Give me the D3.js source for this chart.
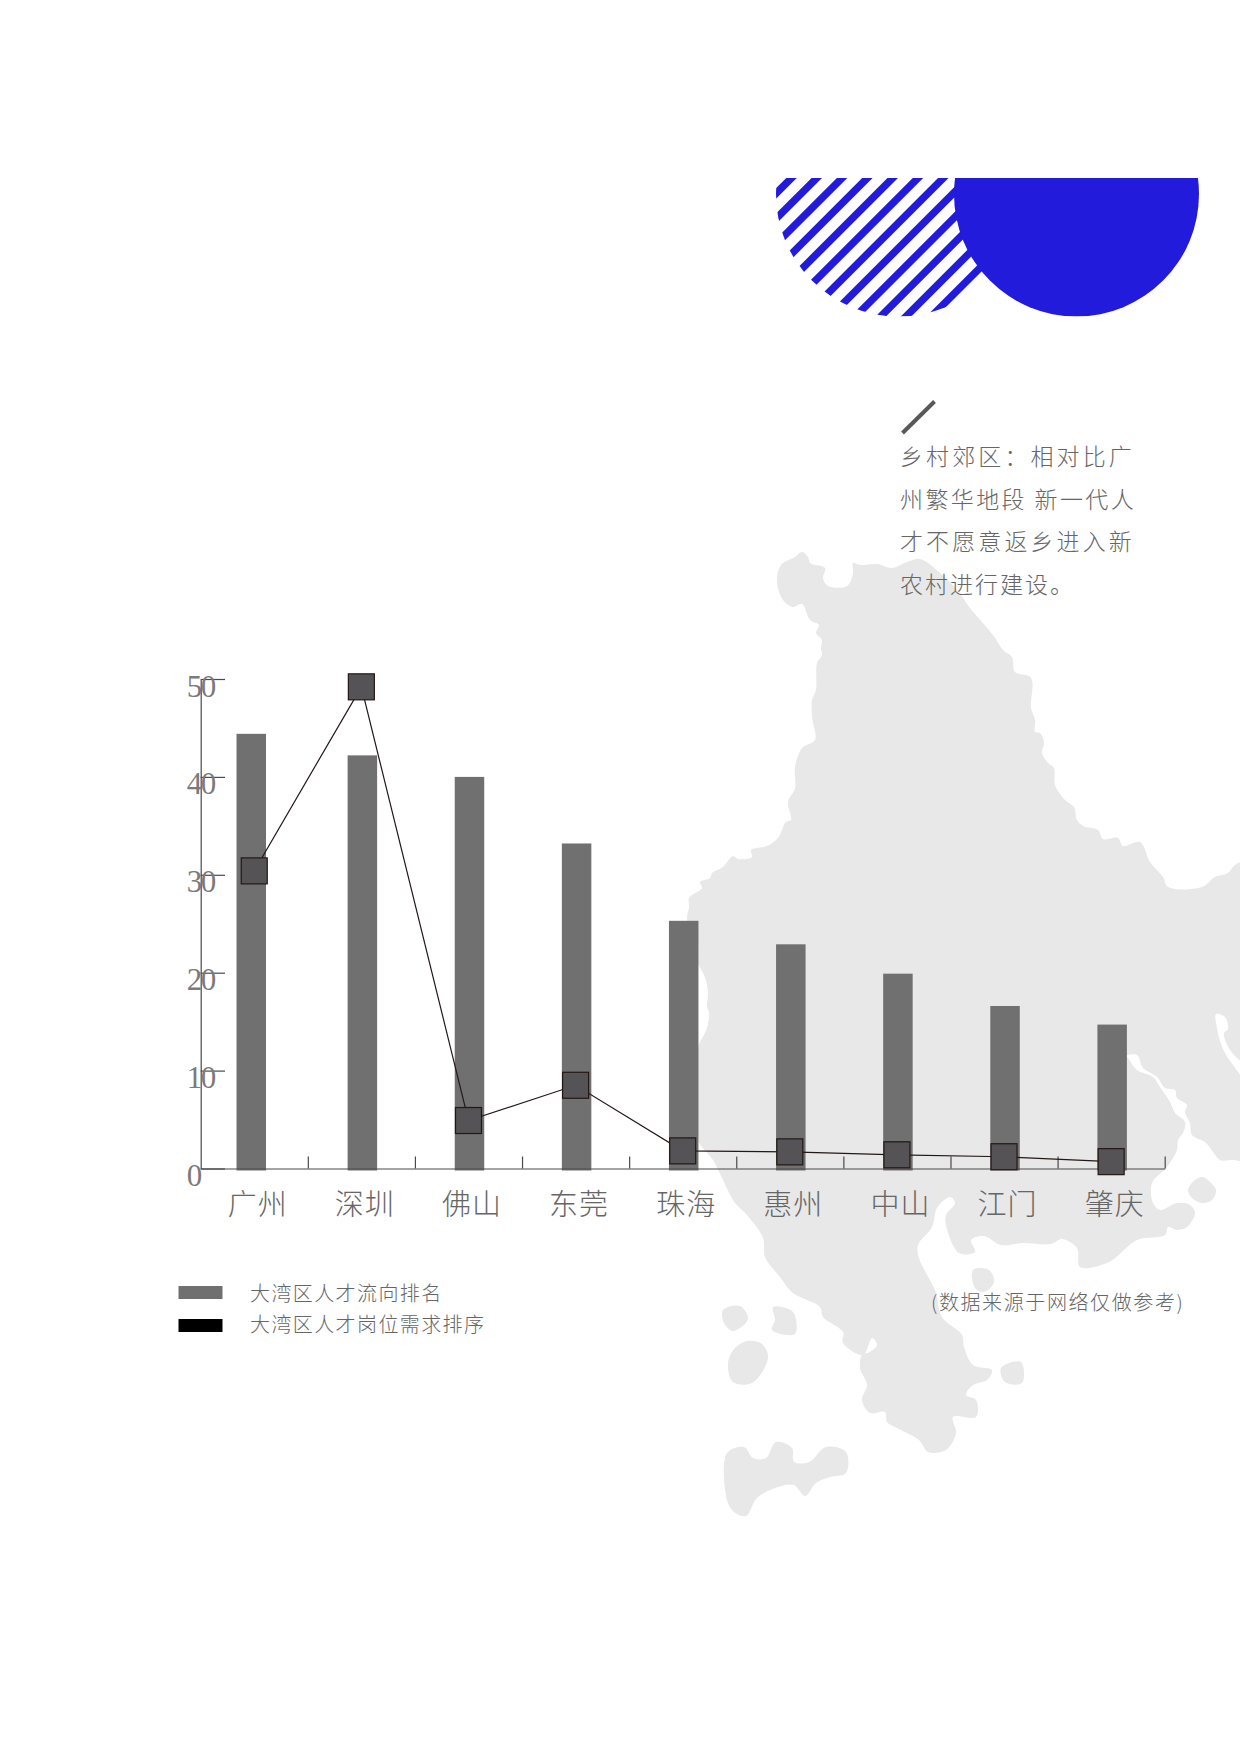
<!DOCTYPE html>
<html>
<head>
<meta charset="utf-8">
<title>大湾区人才流向排名</title>
<style>
html, body { margin: 0; padding: 0; background: #fff; }
svg { display: block; }
text { font-family: "Noto Sans CJK SC", sans-serif; font-weight: 300; fill: #666; }
</style>
</head>
<body>
<svg id="chart" width="1240" height="1754"></svg>
<script src="https://d3js.org/d3.v7.min.js"></script>
<script>
// values
var categories = ["广州", "深圳", "佛山", "东莞", "珠海", "惠州", "中山", "江门", "肇庆"];
var flowRank = [44.4, 42.2, 40.0, 33.2, 25.3, 22.9, 19.9, 16.6, 14.7];
var demandRank = [30.4, 49.2, 4.9, 8.5, 1.8, 1.7, 1.4, 1.2, 0.7];
var yTicks = [0, 10, 20, 30, 40, 50];
var legendLabels = ["大湾区人才流向排名", "大湾区人才岗位需求排序"];
var legendColors = ["#707070", "#000000"];
var noteLines = ["乡村郊区:相对比广", "州繁华地段 新一代人", "才不愿意返乡进入新", "农村进行建设。"];
var noteSpacing = [3.1, 2.4, 3.1, 2];
var sourceNote = "(数据来源于网络仅做参考)";

// background map outline, traced by hand
var mainland = [[777,582],[781,565],[795,557],[802,552],[808,557],[810,563],[825,568],[823,578],[828,586],[847,586],[853,573],[853,563],[860,565],[877,564],[892,568],[907,562],[920,559],[940,573],[957,590],[970,608],[982,622],[993,635],[1003,650],[1012,657],[1015,672],[1031,678],[1031,708],[1035,720],[1035,732],[1040,733],[1044,742],[1042,753],[1048,763],[1054,768],[1055,785],[1065,800],[1074,807],[1077,820],[1083,826],[1098,830],[1103,839],[1118,838],[1123,846],[1140,842],[1150,862],[1163,877],[1168,887],[1202,887],[1215,877],[1228,873],[1235,865],[1250,862],[1250,1160],[1233,1160],[1220,1160],[1213,1152],[1205,1142],[1192,1135],[1190,1123],[1185,1112],[1187,1105],[1177,1098],[1175,1090],[1165,1088],[1157,1077],[1143,1068],[1137,1055],[1126,1056],[1128,1058],[1137,1070],[1153,1077],[1160,1087],[1170,1102],[1175,1113],[1185,1122],[1183,1133],[1178,1140],[1177,1150],[1167,1167],[1152,1183],[1153,1203],[1160,1210],[1177,1203],[1190,1205],[1195,1213],[1187,1227],[1177,1230],[1168,1227],[1165,1235],[1137,1240],[1109,1262],[1080,1267],[1077,1248],[1062,1239],[1051,1244],[1023,1243],[1001,1245],[984,1236],[971,1240],[975,1252],[959,1253],[946,1225],[946,1215],[955,1203],[950,1197],[937,1208],[932,1227],[918,1245],[919,1258],[926,1273],[935,1290],[942,1317],[962,1335],[964,1347],[973,1365],[992,1370],[987,1380],[973,1385],[966,1395],[976,1400],[976,1417],[953,1417],[956,1433],[946,1450],[928,1452],[919,1440],[901,1430],[887,1422],[885,1412],[870,1413],[862,1400],[867,1385],[860,1368],[862,1355],[870,1352],[877,1345],[872,1338],[863,1355],[843,1343],[843,1332],[823,1317],[820,1307],[793,1293],[780,1277],[765,1257],[763,1238],[747,1215],[735,1203],[723,1180],[713,1160],[702,1147],[695,1135],[690,1090],[698,1047],[707,1028],[709,1012],[707,1007],[708,993],[705,977],[698,963],[698,947],[687,920],[689,907],[689,898],[702,888],[700,882],[710,878],[712,873],[723,867],[733,856],[738,859],[752,857],[751,850],[767,846],[778,838],[786,822],[791,820],[788,802],[795,788],[795,767],[802,748],[815,740],[812,717],[812,700],[816,690],[817,663],[822,655],[821,648],[822,640],[816,633],[819,625],[810,620],[802,604],[793,607],[783,600]];
var islands = [
  [[1188,1190],[1195,1180],[1203,1177],[1210,1182],[1216,1190],[1212,1200],[1202,1203],[1192,1198]],
  [[973,1270],[989,1270],[994,1282],[984,1292],[975,1288]],
  [[1001,1368],[1021,1362],[1022,1383],[1005,1382]],
  [[723,1310],[740,1306],[748,1319],[733,1331],[724,1323]],
  [[773,1307],[793,1312],[795,1334],[772,1330],[775,1320]],
  [[748,1341],[762,1344],[768,1358],[752,1383],[733,1382],[728,1363],[735,1348]],
  [[727,1453],[744,1447],[753,1458],[766,1458],[776,1442],[792,1448],[794,1462],[809,1462],[826,1447],[846,1452],[846,1473],[830,1477],[816,1483],[805,1496],[794,1485],[778,1487],[757,1498],[746,1516],[734,1512],[727,1500]]
];
var river = [[1216,1014],[1225,1017],[1228,1029],[1224,1033],[1230,1050],[1250,1072],[1250,1085],[1233,1065],[1223,1049],[1217,1028]];

var svg = d3.select("#chart");
var defs = svg.append("defs");

var outline = d3.line().curve(d3.curveCatmullRomClosed.alpha(0.5));

var map = svg.append("g").attr("fill", "#e8e8e8");
map.append("path").attr("d", outline(mainland));
map.selectAll(".island").data(islands).enter().append("path")
    .attr("class", "island")
    .attr("d", outline);
map.append("path").attr("d", outline(river)).attr("fill", "#fff");

// top decoration: striped half circle and solid half circle
defs.append("clipPath").attr("id", "band-clip").append("rect")
    .attr("x", 0).attr("y", 178).attr("width", 1240).attr("height", 138.5);
defs.append("clipPath").attr("id", "stripe-clip").append("circle")
    .attr("cx", 898.5).attr("cy", 194).attr("r", 122.5);

var deco = svg.append("g").attr("clip-path", "url(#band-clip)");
var stripes = deco.append("g").attr("clip-path", "url(#stripe-clip)");
stripes.selectAll("line").data(d3.range(-1, 16)).enter().append("line")
    .attr("x1", function(k) { return 791.5 + 25.3 * k + 40; })
    .attr("y1", 138)
    .attr("x2", function(k) { return 791.5 + 25.3 * k - 200; })
    .attr("y2", 378)
    .attr("stroke", "#231bdb")
    .attr("stroke-width", 7.4);
deco.append("circle")
    .attr("cx", 1076.5).attr("cy", 194).attr("r", 122.5)
    .attr("fill", "#231bdb");

// note text
svg.append("line")
    .attr("x1", 902.5).attr("y1", 433).attr("x2", 934.5).attr("y2", 401.5)
    .attr("stroke", "#595757").attr("stroke-width", 4);
svg.selectAll(".note").data(noteLines).enter().append("text")
    .attr("class", "note")
    .attr("x", 900)
    .attr("y", function(d, i) { return 465 + i * 42.6; })
    .attr("font-size", 23)
    .attr("letter-spacing", function(d, i) { return noteSpacing[i]; })
    .attr("xml:space", "preserve")
    .text(function(d) { return d.replace(":", "\uFF1A"); });

// chart
var x = d3.scaleBand().domain(categories).range([200.7, 1164.7]);
var edges = d3.scaleLinear().domain([0, categories.length]).range([200.7, 1164.7]);
var y = d3.scaleLinear().domain([0, 50]).range([1168.5, 679]);
var barWidth = 29.5;

var bars = svg.append("g");
bars.selectAll("rect").data(flowRank).enter().append("rect")
    .attr("x", function(d, i) {
        // the first bar sits a little left of the others
        return x(categories[i]) + (x.bandwidth() - barWidth) / 2 + (i === 0 ? -3 : 1);
    })
    .attr("y", function(d) { return y(d); })
    .attr("width", barWidth)
    .attr("height", function(d) { return y(0) - y(d) + 2; })
    .attr("fill", "#707070");

var yAxis = svg.append("g")
    .attr("transform", "translate(200.7,0)")
    .call(d3.axisLeft(y).tickValues(yTicks).tickSizeInner(-24.3).tickSizeOuter(0).tickFormat(d3.format("d")));
yAxis.selectAll("path, line").attr("stroke", "#4c4948").attr("stroke-width", 1.2);
yAxis.selectAll("text")
    .attr("x", -14).attr("y", 17).attr("dy", null)
    .attr("text-anchor", "start")
    .attr("letter-spacing", -1.5)
    .style("font-family", '"Liberation Serif", serif')
    .style("font-weight", 400)
    .style("fill", "#7a7a7a")
    .attr("font-size", 31);

var xAxis = svg.append("g")
    .attr("transform", "translate(0," + y(0) + ")")
    .call(d3.axisBottom(edges).tickValues(d3.range(1, categories.length + 1)).tickSizeInner(-12).tickSizeOuter(0).tickFormat(""));
xAxis.selectAll("path, line").attr("stroke", "#4c4948").attr("stroke-width", 1.2);

svg.selectAll(".cat").data(categories).enter().append("text")
    .attr("class", "cat")
    .attr("x", function(d) { return x(d) + x.bandwidth() / 2 + 3.5; })
    .attr("y", 1214.5)
    .attr("text-anchor", "middle")
    .attr("font-size", 29)
    .attr("letter-spacing", 1)
    .text(function(d) { return d; });

var demandLine = d3.line()
    .x(function(d, i) { return x(categories[i]) + x.bandwidth() / 2; })
    .y(function(d) { return y(d); });
svg.append("path")
    .attr("d", demandLine(demandRank))
    .attr("fill", "none")
    .attr("stroke", "#231815")
    .attr("stroke-width", 1.2);

var markerSize = 26;
svg.selectAll(".marker").data(demandRank).enter().append("rect")
    .attr("class", "marker")
    .attr("x", function(d, i) { return x(categories[i]) + x.bandwidth() / 2 - markerSize / 2; })
    .attr("y", function(d) { return y(d) - markerSize / 2; })
    .attr("width", markerSize)
    .attr("height", markerSize)
    .attr("fill", "#555355")
    .attr("stroke", "#231815")
    .attr("stroke-width", 1.2);

// legend
var legend = svg.selectAll(".legend").data(legendLabels).enter().append("g")
    .attr("class", "legend")
    .attr("transform", function(d, i) { return "translate(0," + (1286 + i * 33) + ")"; });
legend.append("rect")
    .attr("x", 178.5).attr("y", 0).attr("width", 44).attr("height", 13)
    .attr("fill", function(d, i) { return legendColors[i]; });
legend.append("text")
    .attr("x", 250).attr("y", function(d, i) { return i === 0 ? 15 : 13; })
    .attr("font-size", 20)
    .attr("letter-spacing", 1.4)
    .text(function(d) { return d; });

svg.append("text")
    .attr("x", 931).attr("y", 1309.5)
    .attr("font-size", 20)
    .attr("letter-spacing", 1.6)
    .text(sourceNote);
</script>
</body>
</html>
